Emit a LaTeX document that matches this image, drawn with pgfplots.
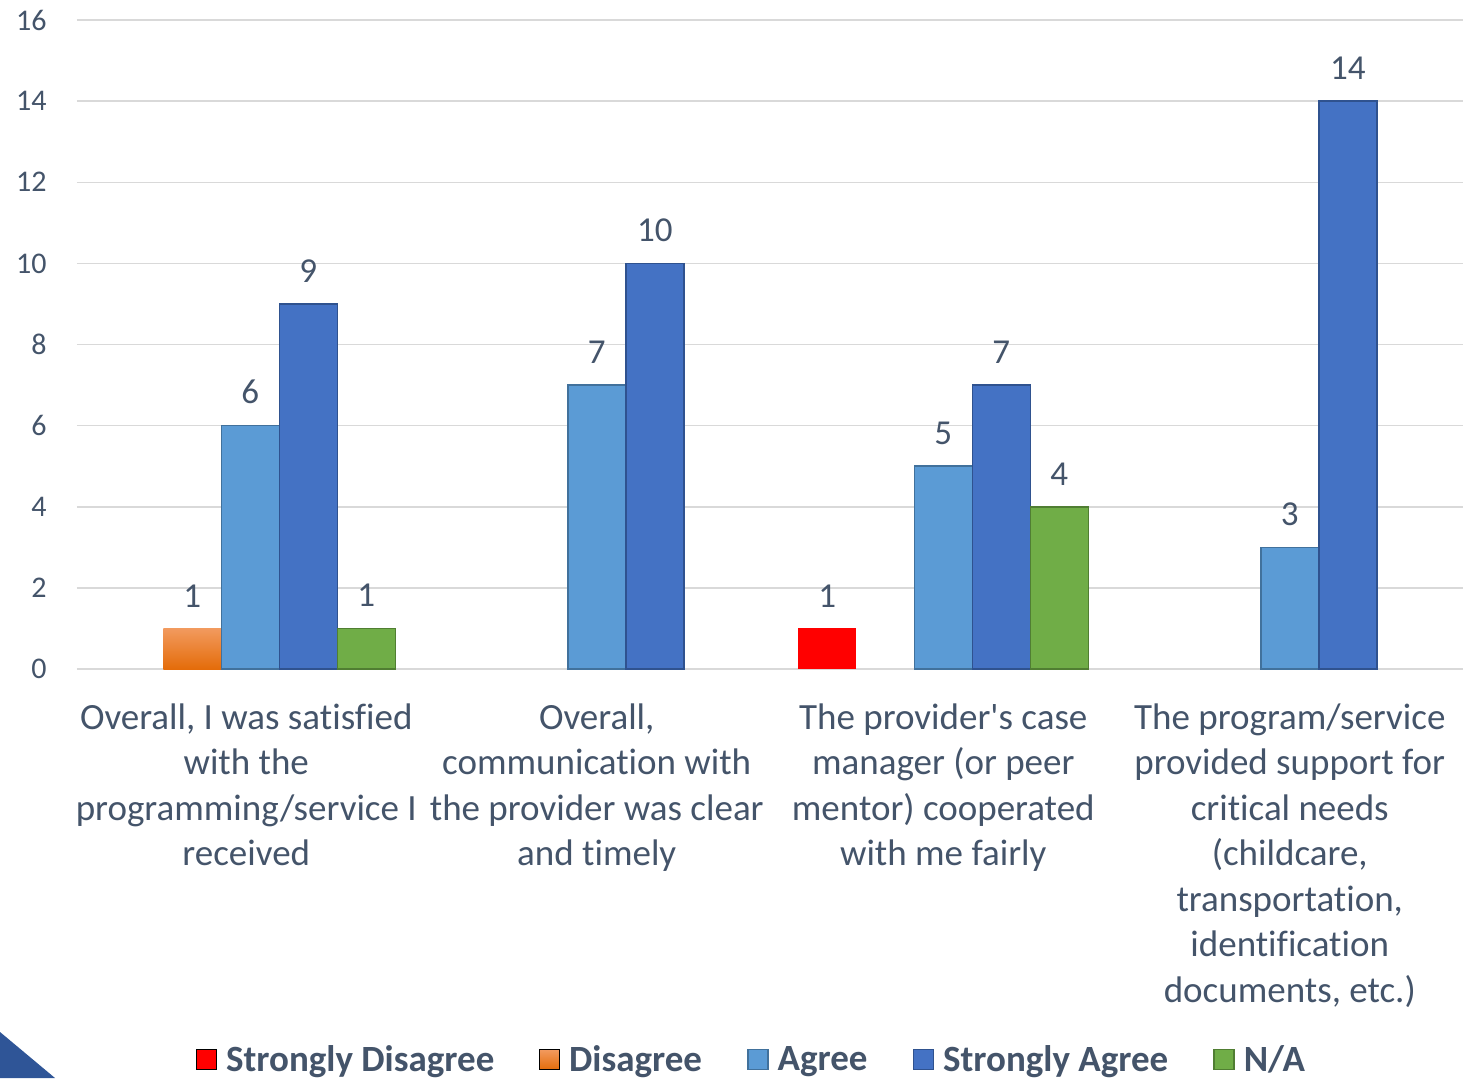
\documentclass[border=0pt]{standalone}
\usepackage{fontspec}
\setmainfont{Carlito}[Ligatures={NoCommon}]
\usepackage{pgfplots}
\pgfplotsset{compat=1.18}
\definecolor{txt}{HTML}{44546A}
\definecolor{gridc}{HTML}{D9D9D9}
\definecolor{sdis}{HTML}{FF0000}
\definecolor{distop}{HTML}{F29A5E}
\definecolor{disbot}{HTML}{E46C0A}
\definecolor{agr}{HTML}{5B9BD5}
\definecolor{agrb}{HTML}{41719C}
\definecolor{sagr}{HTML}{4472C4}
\definecolor{sagrb}{HTML}{2F528F}
\definecolor{na}{HTML}{70AD47}
\definecolor{nab}{HTML}{507E32}
\definecolor{tri}{HTML}{2F5597}
\newcommand\labA{Overall, I was satisfied\\with the\\programming/service I\\received}
\begin{document}
\begin{tikzpicture}[x=0.5pt,y=0.5pt]
\path[use as bounding box, fill=white] (0,0) rectangle (1476,1078);
\fill[tri] (0,0) -- (55,0) -- (0,46) -- cycle;
\begin{axis}[
  at={(38.5pt,204.5pt)}, anchor=south west,
  scale only axis, width=693pt, height=324.5pt,
  ybar=0pt, bar width=29pt,
  xmin=-0.5, xmax=3.5, ymin=0, ymax=16,
  xtick={1,2,3},
  xticklabels={
    {Overall,\\communication with\\the provider was clear\\and timely},
    {The provider\textquotesingle s case\\manager (or peer\\mentor) cooperated\\with me fairly},
    {The program/service\\provided support for\\critical needs\\(childcare,\\transportation,\\identification\\documents, etc.)}},
  extra x ticks={0},
  extra x tick labels={\labA},
  extra x tick style={xticklabel style={xshift=-2pt}, grid=none},
  ytick={0,2,...,16},
  ymajorgrids, grid style={color=gridc, line width=0.75pt},
  axis line style={draw=none}, major tick length=0pt,
  /pgf/number format/assume math mode=true,
  xticklabel style={align=center, font=\fontsize{18.5}{22.75}\selectfont, text=txt, anchor=north, inner sep=0pt, yshift=-17pt},
  yticklabel style={font=\fontsize{15}{18}\selectfont, text=txt, anchor=east, inner sep=0pt, xshift=-15pt},
  nodes near coords,
  every node near coord/.append style={font=\fontsize{17.5}{20}\selectfont, text=txt, inner sep=0pt, yshift=10.5pt},
  legend columns=-1,
  legend image code/.code={\draw[#1] (0pt,-5pt) rectangle (10pt,5pt);},
  legend style={draw=none, fill=none, at={(0.486,-0.602)}, anchor=center,
    font=\fontsize{18.5}{22}\selectfont\bfseries, text=txt,
    nodes={inner sep=0pt},
    /tikz/every odd column/.append style={column sep=4.5pt},
    /tikz/every even column/.append style={column sep=22.5pt}},
]
\addplot[fill=sdis, draw=none] coordinates {(2,1)};
\addplot[top color=distop, bottom color=disbot, draw=none] coordinates {(0,1)};
\addplot[fill=agr, draw=agrb, line width=0.75pt] coordinates {(0,6) (1,7) (2,5) (3,3)};
\addplot[fill=sagr, draw=sagrb, line width=0.75pt] coordinates {(0,9) (1,10) (2,7) (3,14)};
\addplot[fill=na, draw=nab, line width=0.75pt] coordinates {(0,1) (2,4)};
\legend{Strongly Disagree, Disagree, Agree, Strongly Agree, N/A}
\end{axis}
\end{tikzpicture}
\end{document}
